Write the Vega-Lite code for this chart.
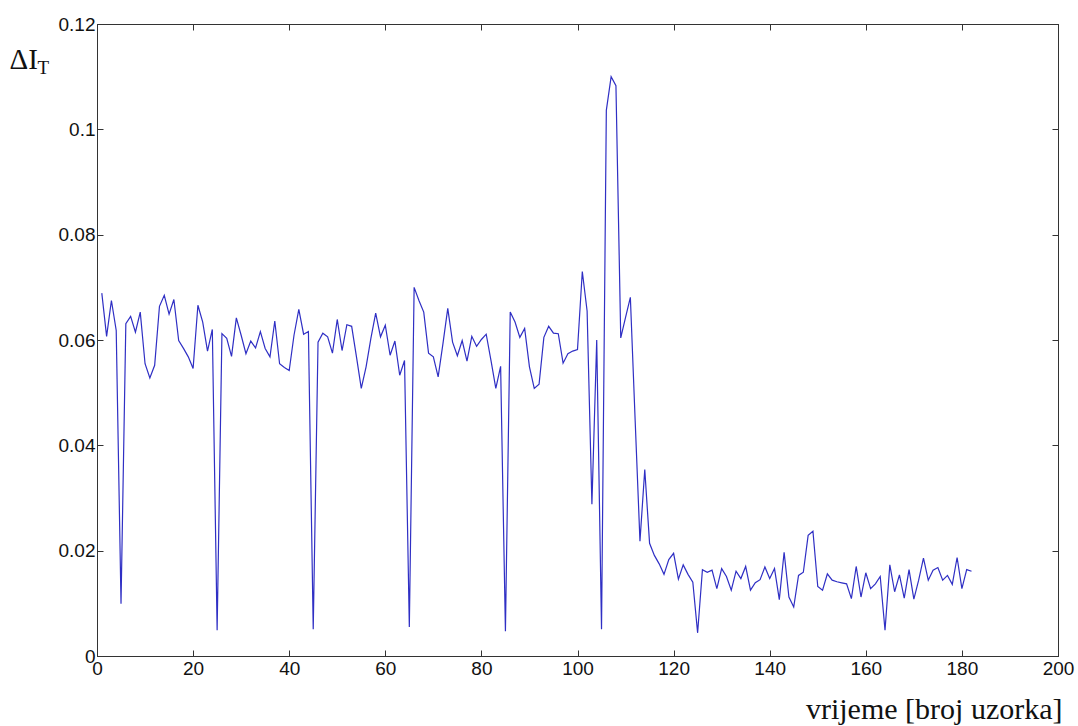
{
  "$schema": "https://vega.github.io/schema/vega-lite/v6.json",
  "width": 961,
  "height": 632,
  "autosize": {"type": "none"},
  "padding": {"left": 97, "top": 24, "right": 20, "bottom": 70},
  "background": "white",
  "config": {
    "view": {"stroke": "#333333", "strokeWidth": 1},
    "axis": {
      "grid": false,
      "domainColor": "#333333",
      "tickColor": "#333333",
      "labelColor": "#111111",
      "labelFont": "Liberation Sans",
      "labelFontSize": 19,
      "tickSize": -6,
      "titleColor": "#111111"
    }
  },
  "data": {
    "values": [
      {"n":1,"v":0.0689},{"n":2,"v":0.0607},{"n":3,"v":0.0675},{"n":4,"v":0.0618},{"n":5,"v":0.0099},
      {"n":6,"v":0.0631},{"n":7,"v":0.0645},{"n":8,"v":0.0615},{"n":9,"v":0.0653},{"n":10,"v":0.0555},
      {"n":11,"v":0.0528},{"n":12,"v":0.0552},{"n":13,"v":0.0664},{"n":14,"v":0.0685},{"n":15,"v":0.0649},
      {"n":16,"v":0.0677},{"n":17,"v":0.0599},{"n":18,"v":0.0584},{"n":19,"v":0.0568},{"n":20,"v":0.0546},
      {"n":21,"v":0.0666},{"n":22,"v":0.0634},{"n":23,"v":0.0579},{"n":24,"v":0.0620},{"n":25,"v":0.0049},
      {"n":26,"v":0.0612},{"n":27,"v":0.0603},{"n":28,"v":0.0569},{"n":29,"v":0.0642},{"n":30,"v":0.0609},
      {"n":31,"v":0.0574},{"n":32,"v":0.0598},{"n":33,"v":0.0585},{"n":34,"v":0.0616},{"n":35,"v":0.0584},
      {"n":36,"v":0.0568},{"n":37,"v":0.0636},{"n":38,"v":0.0555},{"n":39,"v":0.0548},{"n":40,"v":0.0542},
      {"n":41,"v":0.0609},{"n":42,"v":0.0658},{"n":43,"v":0.0611},{"n":44,"v":0.0616},{"n":45,"v":0.0051},
      {"n":46,"v":0.0596},{"n":47,"v":0.0613},{"n":48,"v":0.0606},{"n":49,"v":0.0575},{"n":50,"v":0.0639},
      {"n":51,"v":0.0580},{"n":52,"v":0.0629},{"n":53,"v":0.0626},{"n":54,"v":0.0568},{"n":55,"v":0.0508},
      {"n":56,"v":0.0549},{"n":57,"v":0.0603},{"n":58,"v":0.0651},{"n":59,"v":0.0606},{"n":60,"v":0.0628},
      {"n":61,"v":0.0571},{"n":62,"v":0.0598},{"n":63,"v":0.0533},{"n":64,"v":0.0561},{"n":65,"v":0.0055},
      {"n":66,"v":0.0700},{"n":67,"v":0.0675},{"n":68,"v":0.0653},{"n":69,"v":0.0575},{"n":70,"v":0.0568},
      {"n":71,"v":0.0530},{"n":72,"v":0.0593},{"n":73,"v":0.0660},{"n":74,"v":0.0596},{"n":75,"v":0.0570},
      {"n":76,"v":0.0599},{"n":77,"v":0.0560},{"n":78,"v":0.0607},{"n":79,"v":0.0588},{"n":80,"v":0.0601},
      {"n":81,"v":0.0611},{"n":82,"v":0.0561},{"n":83,"v":0.0508},{"n":84,"v":0.0550},{"n":85,"v":0.0047},
      {"n":86,"v":0.0653},{"n":87,"v":0.0634},{"n":88,"v":0.0605},{"n":89,"v":0.0622},{"n":90,"v":0.0549},
      {"n":91,"v":0.0508},{"n":92,"v":0.0516},{"n":93,"v":0.0605},{"n":94,"v":0.0626},{"n":95,"v":0.0613},
      {"n":96,"v":0.0612},{"n":97,"v":0.0556},{"n":98,"v":0.0574},{"n":99,"v":0.0579},{"n":100,"v":0.0582},
      {"n":101,"v":0.0730},{"n":102,"v":0.0655},{"n":103,"v":0.0288},{"n":104,"v":0.0600},{"n":105,"v":0.0051},
      {"n":106,"v":0.1036},{"n":107,"v":0.1100},{"n":108,"v":0.1083},{"n":109,"v":0.0604},{"n":110,"v":0.0643},
      {"n":111,"v":0.0681},{"n":112,"v":0.0447},{"n":113,"v":0.0218},{"n":114,"v":0.0354},{"n":115,"v":0.0214},
      {"n":116,"v":0.0191},{"n":117,"v":0.0175},{"n":118,"v":0.0155},{"n":119,"v":0.0183},{"n":120,"v":0.0195},
      {"n":121,"v":0.0146},{"n":122,"v":0.0173},{"n":123,"v":0.0155},{"n":124,"v":0.0140},{"n":125,"v":0.0044},
      {"n":126,"v":0.0164},{"n":127,"v":0.0159},{"n":128,"v":0.0163},{"n":129,"v":0.0128},{"n":130,"v":0.0166},
      {"n":131,"v":0.0151},{"n":132,"v":0.0125},{"n":133,"v":0.0161},{"n":134,"v":0.0147},{"n":135,"v":0.0170},
      {"n":136,"v":0.0125},{"n":137,"v":0.0139},{"n":138,"v":0.0145},{"n":139,"v":0.0169},{"n":140,"v":0.0147},
      {"n":141,"v":0.0166},{"n":142,"v":0.0107},{"n":143,"v":0.0197},{"n":144,"v":0.0112},{"n":145,"v":0.0093},
      {"n":146,"v":0.0153},{"n":147,"v":0.0159},{"n":148,"v":0.0229},{"n":149,"v":0.0237},{"n":150,"v":0.0132},
      {"n":151,"v":0.0125},{"n":152,"v":0.0156},{"n":153,"v":0.0144},{"n":154,"v":0.0141},{"n":155,"v":0.0139},
      {"n":156,"v":0.0137},{"n":157,"v":0.0109},{"n":158,"v":0.0170},{"n":159,"v":0.0112},{"n":160,"v":0.0158},
      {"n":161,"v":0.0128},{"n":162,"v":0.0137},{"n":163,"v":0.0151},{"n":164,"v":0.0049},{"n":165,"v":0.0173},
      {"n":166,"v":0.0122},{"n":167,"v":0.0154},{"n":168,"v":0.0110},{"n":169,"v":0.0164},{"n":170,"v":0.0108},
      {"n":171,"v":0.0144},{"n":172,"v":0.0186},{"n":173,"v":0.0144},{"n":174,"v":0.0163},{"n":175,"v":0.0168},
      {"n":176,"v":0.0144},{"n":177,"v":0.0153},{"n":178,"v":0.0136},{"n":179,"v":0.0187},{"n":180,"v":0.0128},
      {"n":181,"v":0.0164},{"n":182,"v":0.0161}
    ]
  },
  "layer": [
    {
      "mark": {"type": "line", "color": "#2f2fc4", "strokeWidth": 1.2},
      "encoding": {
        "x": {
          "field": "n", "type": "quantitative",
          "scale": {"domain": [0, 200], "nice": false, "zero": false},
          "axis": {
            "orient": "bottom",
            "values": [0, 20, 40, 60, 80, 100, 120, 140, 160, 180, 200],
            "labelPadding": 9,
            "labelFlush": false,
            "title": "vrijeme [broj uzorka]",
            "titleFont": "Liberation Serif",
            "titleFontSize": 30,
            "titleFontWeight": "normal",
            "titleAlign": "right",
            "titleBaseline": "alphabetic",
            "titleAnchor": null,
            "titleX": 965,
            "titleY": 62
          }
        },
        "y": {
          "field": "v", "type": "quantitative",
          "scale": {"domain": [0, 0.12], "nice": false},
          "axis": {
            "orient": "left",
            "values": [0, 0.02, 0.04, 0.06, 0.08, 0.1, 0.12],
            "labelExpr": "format(datum.value, '.2~f')",
            "labelPadding": 8,
            "labelFlush": false,
            "title": "ΔI",
            "titleFont": "Liberation Serif",
            "titleFontSize": 29,
            "titleFontWeight": "normal",
            "titleAngle": 0,
            "titleAlign": "left",
            "titleBaseline": "alphabetic",
            "titleAnchor": null,
            "titleX": -88,
            "titleY": 44
          }
        }
      }
    },
    {
      "mark": {"type": "line", "opacity": 0},
      "encoding": {
        "x": {
          "field": "n", "type": "quantitative",
          "scale": {"domain": [0, 200], "nice": false, "zero": false},
          "axis": {
            "orient": "top",
            "values": [0, 20, 40, 60, 80, 100, 120, 140, 160, 180, 200],
            "labels": false,
            "title": null
          }
        },
        "y": {
          "field": "v", "type": "quantitative",
          "scale": {"domain": [0, 0.12], "nice": false},
          "axis": {
            "orient": "right",
            "values": [0, 0.02, 0.04, 0.06, 0.08, 0.1, 0.12],
            "labels": false,
            "title": "T",
            "titleFont": "Liberation Serif",
            "titleFontSize": 19,
            "titleFontWeight": "normal",
            "titleAngle": 0,
            "titleAlign": "left",
            "titleBaseline": "alphabetic",
            "titleAnchor": null,
            "titleX": -1021,
            "titleY": 49
          }
        }
      }
    }
  ],
  "resolve": {"axis": {"x": "independent", "y": "independent"}}
}
